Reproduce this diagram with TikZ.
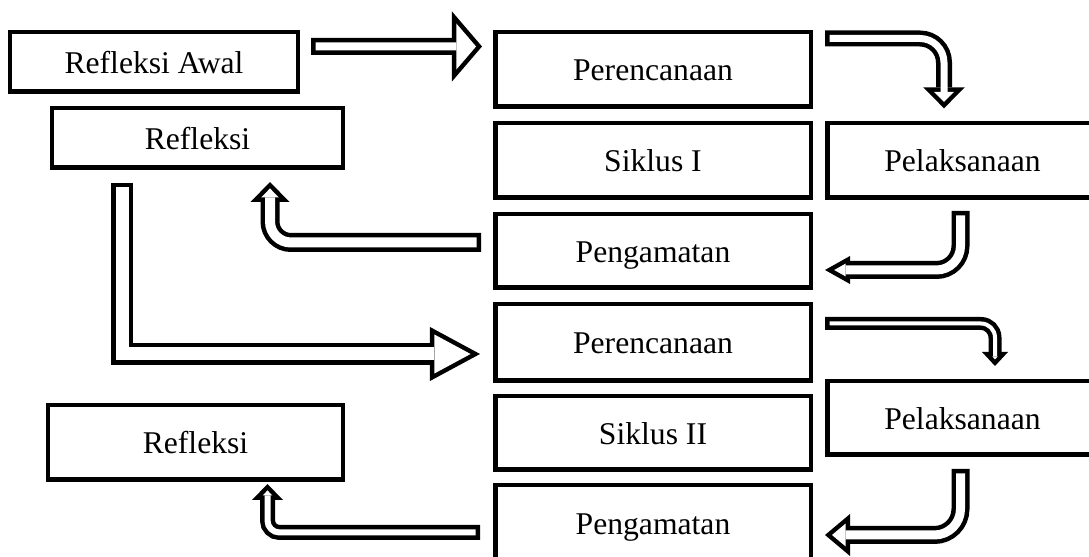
\documentclass[tikz,border=0pt]{standalone}
\usepackage{fontspec}
\setmainfont{Liberation Serif}
\usetikzlibrary{arrows.meta,calc}

\begin{document}
\begin{tikzpicture}[x=0.2mm,y=-0.2mm,
    font=\fontsize{18}{20}\selectfont,
    box/.style={draw, line width=0.9mm, inner sep=0pt, minimum width=63.1mm, minimum height=14.9mm, text height=14.4pt, text depth=1.4pt},
    shaft/.style={line width=#1},
    core/.style={white, line width=#1, shorten <=0.9mm},
    head/.style 2 args={-{Triangle[length=#1,width=#2,line width=0pt]}}]
  \useasboundingbox (0,0) rectangle (1089,557);
  \clip (0,0) rectangle (1089,557);

  \node[box, minimum width=57.5mm, minimum height=11.9mm] (ra) at (154,62) {Refleksi Awal};
  \node[box, minimum width=58.1mm, minimum height=11.9mm] (rf1) at (197.5,138) {Refleksi};
  \node[box, minimum width=58.9mm] (rf2) at (195.5,442.5) {Refleksi};
  \node[box] (pr1) at (653,69.5) {Perencanaan};
  \node[box] (sk1) at (653,160.5) {Siklus I};
  \node[box, minimum height=14.7mm] (pg1) at (653,251) {Pengamatan};
  \node[box, minimum height=15.3mm] (pr2) at (653,342.5) {Perencanaan};
  \node[box, minimum height=14.7mm] (sk2) at (653,433) {Siklus II};
  \node[box, minimum height=15.1mm] (pg2) at (653,523) {Pengamatan};
  \node[box, minimum width=54.1mm] (pl1) at (962.5,160.5) {Pelaksanaan};
  \node[box, minimum width=54.1mm, minimum height=14.7mm] (pl2) at (962.5,418) {Pelaksanaan};

  % siklus I
  \coordinate (a1) at ($(ra.east)+(11,-15.5)$);
  \coordinate (b1) at ($(pr1.west)+(-11,-23)$);
  \draw[shaft=3.4mm, head={6mm}{14mm}] (a1) -- (b1);
  \draw[core=1.6mm, shorten >=1.19mm, head={3.91mm}{9.13mm}] (a1) -- (b1);

  \coordinate (a2) at ($(pr1.east)+(12,-31)$);
  \coordinate (b2) at ($(pl1.north)+(-18.5,-12.7)$);
  \draw[shaft=3.2mm, rounded corners=4.8mm, head={4.2mm}{8.34mm}] (a2) -| (b2);
  \draw[core=1.4mm, rounded corners=4.8mm, shorten >=1.28mm, head={2.02mm}{4.02mm}] (a2) -| (b2);

  \coordinate (a3) at ($(pl1.south)+(-2,11)$);
  \coordinate (b3) at ($(pg1.east)+(12,19)$);
  \draw[shaft=3.6mm, rounded corners=4.8mm, head={5mm}{5.6mm}] (a3) |- (b3);
  \draw[core=1.8mm, rounded corners=4.8mm, shorten >=1.84mm, head={2.26mm}{2.53mm}] (a3) |- (b3);

  \coordinate (a4) at ($(pg1.west)+(-12,-8.5)$);
  \coordinate (b4) at ($(rf1.south)+(72.5,12)$);
  \draw[shaft=3.8mm, rounded corners=4.2mm, head={4mm}{7.8mm}] (a4) -| (b4);
  \draw[core=2mm, rounded corners=4.2mm, shorten >=1.29mm, head={1.81mm}{3.53mm}] (a4) -| (b4);

  % siklus II
  \coordinate (a5) at ($(rf1.south)+(-75.5,13)$);
  \coordinate (b5) at ($(pr2.west)+(-13,11.5)$);
  \draw[shaft=4.4mm, head={10mm}{10.8mm}] (a5) |- (b5);
  \draw[core=2.6mm, shorten >=1.89mm, head={7.21mm}{7.78mm}] (a5) |- (b5);

  \coordinate (a6) at ($(pr2.east)+(12,-19)$);
  \coordinate (b6) at ($(pl2.north)+(32.5,-13)$);
  \draw[shaft=2.6mm, rounded corners=2.8mm, head={2.8mm}{5.2mm}] (a6) -| (b6);
  \draw[core=0.8mm, rounded corners=2.8mm, shorten >=1.32mm, head={0.58mm}{1.07mm}] (a6) -| (b6);

  \coordinate (a7) at ($(pl2.south)+(-2,12)$);
  \coordinate (b7) at ($(pg2.east)+(12,12)$);
  \draw[shaft=3.6mm, rounded corners=5.2mm, head={5mm}{8.4mm}] (a7) |- (b7);
  \draw[core=1.8mm, rounded corners=5.2mm, shorten >=1.4mm, head={2.7mm}{4.54mm}] (a7) |- (b7);

  \coordinate (a8) at ($(pg2.west)+(-13,9.5)$);
  \coordinate (b8) at ($(rf2.south)+(72,2)$);
  \draw[shaft=3mm, rounded corners=2.4mm, head={3.2mm}{6.2mm}] (a8) -| (b8);
  \draw[core=1.2mm, rounded corners=2.4mm, shorten >=1.29mm, head={1.01mm}{1.95mm}] (a8) -| (b8);
\end{tikzpicture}
\end{document}
